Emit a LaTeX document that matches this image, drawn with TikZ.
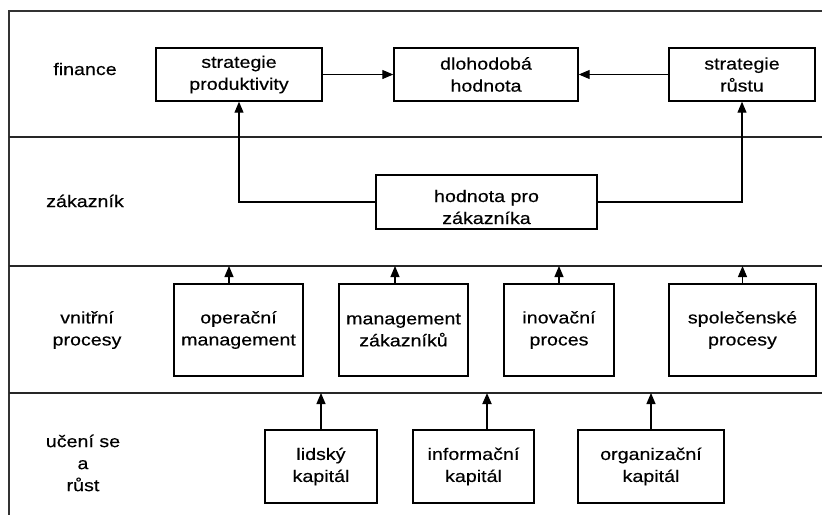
\documentclass[tikz,border=0pt]{standalone}
\usepackage{fontspec}
\setmainfont{Liberation Sans}[FakeStretch=1.17, FakeBold=0.35]
\usetikzlibrary{arrows.meta}

\tikzset{
  frame/.style={line width=1.6pt, black!80},
  divider/.style={line width=2pt, black!85},
  box/.style={draw, line width=1.4pt, inner sep=0pt, align=center},
  lbl/.style={align=center, inner sep=0pt},
  arr/.style={line width=1.1pt, -{Triangle[width=9pt,length=11pt]}},
  thickarr/.style={line width=1.8pt, -{Triangle[width=9pt,length=11pt]}},
}

\begin{document}
\begin{tikzpicture}[x=1pt, y=-1pt,
  every node/.style={font=\fontsize{16.8}{22}\selectfont}]
  \useasboundingbox (0,0) rectangle (822,515);

  % outer frame and perspective dividers
  \draw[frame] (822,11) -- (9,11) -- (9,515);
  \coordinate (d1) at (9,137);
  \coordinate (d2) at (9,266);
  \coordinate (d3) at (9,393);
  \draw[divider] (d1) -- (822,137);
  \draw[divider] (d2) -- (822,266);
  \draw[divider] (d3) -- (822,393);

  % perspective labels
  \node[lbl] (pfin) at (85,69) {finance};
  \node[lbl] (pzak) at (85,201) {zákazník};
  \node[lbl] (pvp)  at (87,330) {vnitřní\\procesy};
  \node[lbl] (puc)  at (83,463) {učení se\\a\\růst};

  % financial perspective
  \node[box, minimum width=166pt, minimum height=53pt] (sp) at (239,74.5) {strategie\\produktivity};
  \node[box, minimum width=184pt, minimum height=53pt] (dh) at (486,74.5) {dlohodobá\\hodnota};
  \node[box, minimum width=146pt, minimum height=53pt] (sr) at (742,74.5) {strategie\\růstu};

  % customer perspective
  \node[box, minimum width=221pt, minimum height=54pt] (hz) at (486.5,202) {};
  \node[lbl] (hzt) at (486.5,207) {hodnota pro\\zákazníka};

  % internal processes
  \node[box, minimum width=129pt, minimum height=92pt] (om) at (238.5,330) {operační\\management};
  \node[box, minimum width=129pt, minimum height=92pt] (mz) at (403.5,330) {management\\zákazníků};
  \node[box, minimum width=110pt, minimum height=92pt] (ip) at (559,330) {inovační\\proces};
  \node[box, minimum width=147pt, minimum height=92pt] (spp) at (742.5,330) {společenské\\procesy};

  % learning and growth
  \node[box, minimum width=112pt, minimum height=73pt] (lk) at (321,466.5) {lidský\\kapitál};
  \node[box, minimum width=121pt, minimum height=73pt] (ik) at (473.5,466.5) {informační\\kapitál};
  \node[box, minimum width=146pt, minimum height=73pt] (ok) at (651,466.5) {organizační\\kapitál};

  % connectors inside the financial row
  \draw[arr] (sp.east) -- (dh.west);
  \draw[arr] (sr.west) -- (dh.east);

  % customer value feeds both strategies
  \draw[arr] (hz.west) -| (sp.south);
  \draw[arr] (hz.east) -| (sr.south);

  % processes up to the customer row
  \coordinate (omt) at ([xshift=-9.5pt]om.north);
  \coordinate (mzt) at ([xshift=-8.5pt]mz.north);
  \draw[arr] (omt) -- (omt |- d2);
  \draw[arr] (mzt) -- (mzt |- d2);
  \draw[arr] (ip.north) -- (ip.north |- d2);
  \draw[arr] (spp.north) -- (spp.north |- d2);

  % capitals up to the process row
  \coordinate (ikt) at ([xshift=13.5pt]ik.north);
  \draw[arr] (lk.north) -- (lk.north |- d3);
  \draw[thickarr] (ikt) -- (ikt |- d3);
  \draw[arr] (ok.north) -- (ok.north |- d3);
\end{tikzpicture}
\end{document}
